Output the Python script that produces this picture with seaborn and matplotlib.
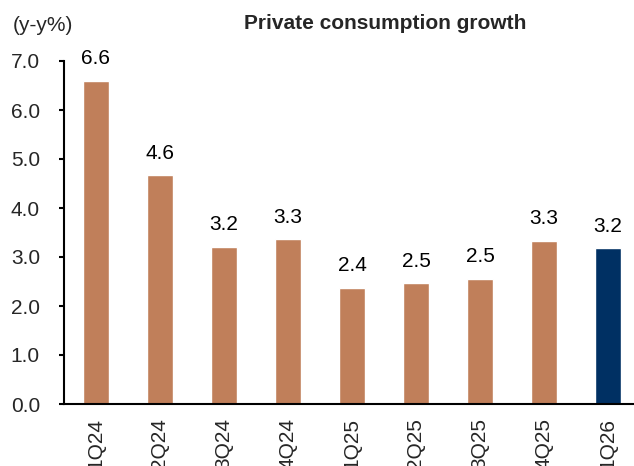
import matplotlib
matplotlib.use('Agg')
import matplotlib.pyplot as plt
import seaborn as sns
import pandas as pd
import numpy as np

categories = ['1Q24', '2Q24', '3Q24', '4Q24', '1Q25', '2Q25', '3Q25', '4Q25', '1Q26']
values = [6.59, 4.67, 3.21, 3.36, 2.37, 2.46, 2.55, 3.33, 3.18]
value_labels = ['6.6', '4.6', '3.2', '3.3', '2.4', '2.5', '2.5', '3.3', '3.2']
bar_colors = ['#C07F5A'] * 8 + ['#003063']
y_ticks = [0, 1, 2, 3, 4, 5, 6, 7]

sns.set_style('white')
plt.rcParams['font.family'] = ['Liberation Sans', 'DejaVu Sans']

fig = plt.figure(figsize=(6.34, 4.66), dpi=100)
ax = fig.add_axes([64 / 634, 62 / 466, 576 / 634, 343 / 466])

df = pd.DataFrame({'q': categories, 'v': values})
sns.barplot(data=df, x='q', y='v', hue='q', palette=bar_colors, legend=False,
            width=0.4, saturation=1, ax=ax)

ax.set_xlim(-0.5, len(categories) - 0.5)
ax.set_ylim(0, 7)
ax.set_yticks(y_ticks)
ax.set_yticklabels([f'{t:.1f}' for t in y_ticks], fontsize=15)
ax.set_xticks(range(len(categories)))
ax.set_xticklabels(categories, rotation=90, fontsize=15)
ax.set_xticks(np.arange(-0.5, len(categories), 1), minor=True)
ax.tick_params(axis='x', which='major', length=0, pad=10)
ax.tick_params(axis='x', which='minor', length=5, width=1.5, direction='out', color='black')
ax.tick_params(axis='y', which='major', length=3.8, width=1.5, direction='out', color='black', pad=13.5, left=True)
ax.set_xlabel('')
ax.set_ylabel('')

for s in ['top', 'right']:
    ax.spines[s].set_visible(False)
for s in ['left', 'bottom']:
    ax.spines[s].set_linewidth(1.5)
    ax.spines[s].set_color('black')

for i, (v, lab) in enumerate(zip(values, value_labels)):
    ax.annotate(lab, (i, v), xytext=(0, 12), textcoords='offset points',
                ha='center', va='baseline', fontsize=15, color='black')

fig.text(385 / 634, 1 - 29 / 466, 'Private consumption growth', ha='center', va='baseline',
         fontsize=15, fontweight='bold')
fig.text(13 / 634, 1 - 31 / 466, '(y-y%)', ha='left', va='baseline', fontsize=15)

fig.savefig('out.png', dpi=100)
